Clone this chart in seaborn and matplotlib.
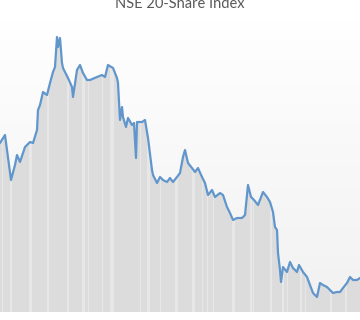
import numpy as np
import pandas as pd
import matplotlib
matplotlib.use("Agg")
import matplotlib.pyplot as plt
import seaborn as sns
from matplotlib.colors import LinearSegmentedColormap

title = "NSE 20-Share Index"

days = [0, 5, 7, 11, 15, 17, 20, 25, 30, 33,
        37, 38, 40, 43, 47, 50, 53, 55, 57, 58,
        60, 62, 63, 68, 72, 73, 77, 80, 83, 87,
        90, 97, 102, 105, 108, 113, 117, 118, 120, 122,
        123, 126, 128, 132, 134, 136, 137, 142, 145, 148,
        152, 153, 157, 160, 163, 167, 170, 173, 177, 180,
        183, 185, 188, 192, 195, 198, 202, 205, 208, 212,
        215, 220, 223, 227, 230, 233, 237, 242, 245, 248,
        251, 254, 258, 263, 267, 270, 273, 275, 277, 278,
        280, 281, 283, 287, 290, 293, 297, 299, 303, 307,
        310, 313, 317, 320, 323, 327, 330, 333, 337, 340,
        343, 347, 350, 353, 357, 360]

index_values = [4390, 4470, 4320, 4020, 4170, 4270, 4200, 4350, 4400, 4390,
                4520, 4720, 4770, 4900, 4870, 4990, 5100, 5150, 5450, 5350,
                5440, 5190, 5140, 5040, 4950, 4850, 5120, 5170, 5090, 5020,
                5020, 5050, 5070, 5050, 5170, 5140, 5040, 4990, 4620, 4750,
                4650, 4550, 4640, 4570, 4590, 4240, 4600, 4600, 4620, 4440,
                4120, 4070, 3990, 4050, 4020, 4000, 4040, 4000, 4050, 4090,
                4250, 4320, 4190, 4140, 4100, 4140, 4050, 3990, 3870, 3920,
                3850, 3890, 3870, 3750, 3690, 3620, 3640, 3640, 3670, 3970,
                3850, 3820, 3770, 3900, 3850, 3800, 3700, 3550, 3520, 3290,
                3120, 3000, 3150, 3100, 3200, 3140, 3100, 3170, 3100, 3050,
                2970, 2890, 2850, 2990, 2970, 2950, 2920, 2890, 2900, 2900,
                2940, 2990, 3050, 3020, 3020, 3040]

# lighter vertical bands inside the filled area (start, width)
stripe_start = [2, 10, 29, 47, 67, 82, 88, 102, 110, 140, 147, 160, 175,
                192, 202, 207, 213, 232, 250, 253, 270, 282, 287, 300, 305,
                330, 345]
stripe_width = [1, 2, 3, 2, 2, 3, 1, 1, 4, 1, 3, 1, 3,
                3, 1, 1, 1, 3, 2, 1, 2, 2, 1, 2, 1,
                2, 2]

df = pd.DataFrame({"day": days, "value": index_values})

sns.set_theme(style="white")
plt.rcParams['font.family'] = ['Lato', 'DejaVu Sans']

W, H = 360, 320
fig = plt.figure(figsize=(W / 100, H / 100), dpi=100)
fig.patch.set_facecolor("white")
ax = fig.add_axes([0, 8 / H, 1, 292 / H])

ymin, ymax = 2700, 5620
ax.set_xlim(0, 360)
ax.set_ylim(ymin, ymax)

# subtle vertical gradient background: white at top, light grey at bottom
grad = np.linspace(0, 1, 256).reshape(-1, 1)
cmap = LinearSegmentedColormap.from_list("bg", ["#ffffff", "#f1f1f1"])
ax.imshow(grad, aspect="auto", cmap=cmap, extent=[0, 360, ymin, ymax],
          origin="upper", zorder=0)

poly = ax.fill_between(df["day"], ymin, df["value"], color="#dcdcdc",
                       linewidth=0, zorder=1)
clip_path = poly.get_paths()[0]
for s, w in zip(stripe_start, stripe_width):
    sp = ax.axvspan(s, s + w, color="#e7e7e7", linewidth=0, zorder=2)
    sp.set_clip_path(clip_path, ax.transData)

sns.lineplot(data=df, x="day", y="value", ax=ax, color="#6196cc",
             linewidth=1.6, zorder=3)

ax.set_axis_off()
fig.text(0.5, 1 - 7.5 / H, title, ha="center", va="baseline",
         fontsize=10.5, color="#595959")

fig.savefig("out.png", dpi=100)
